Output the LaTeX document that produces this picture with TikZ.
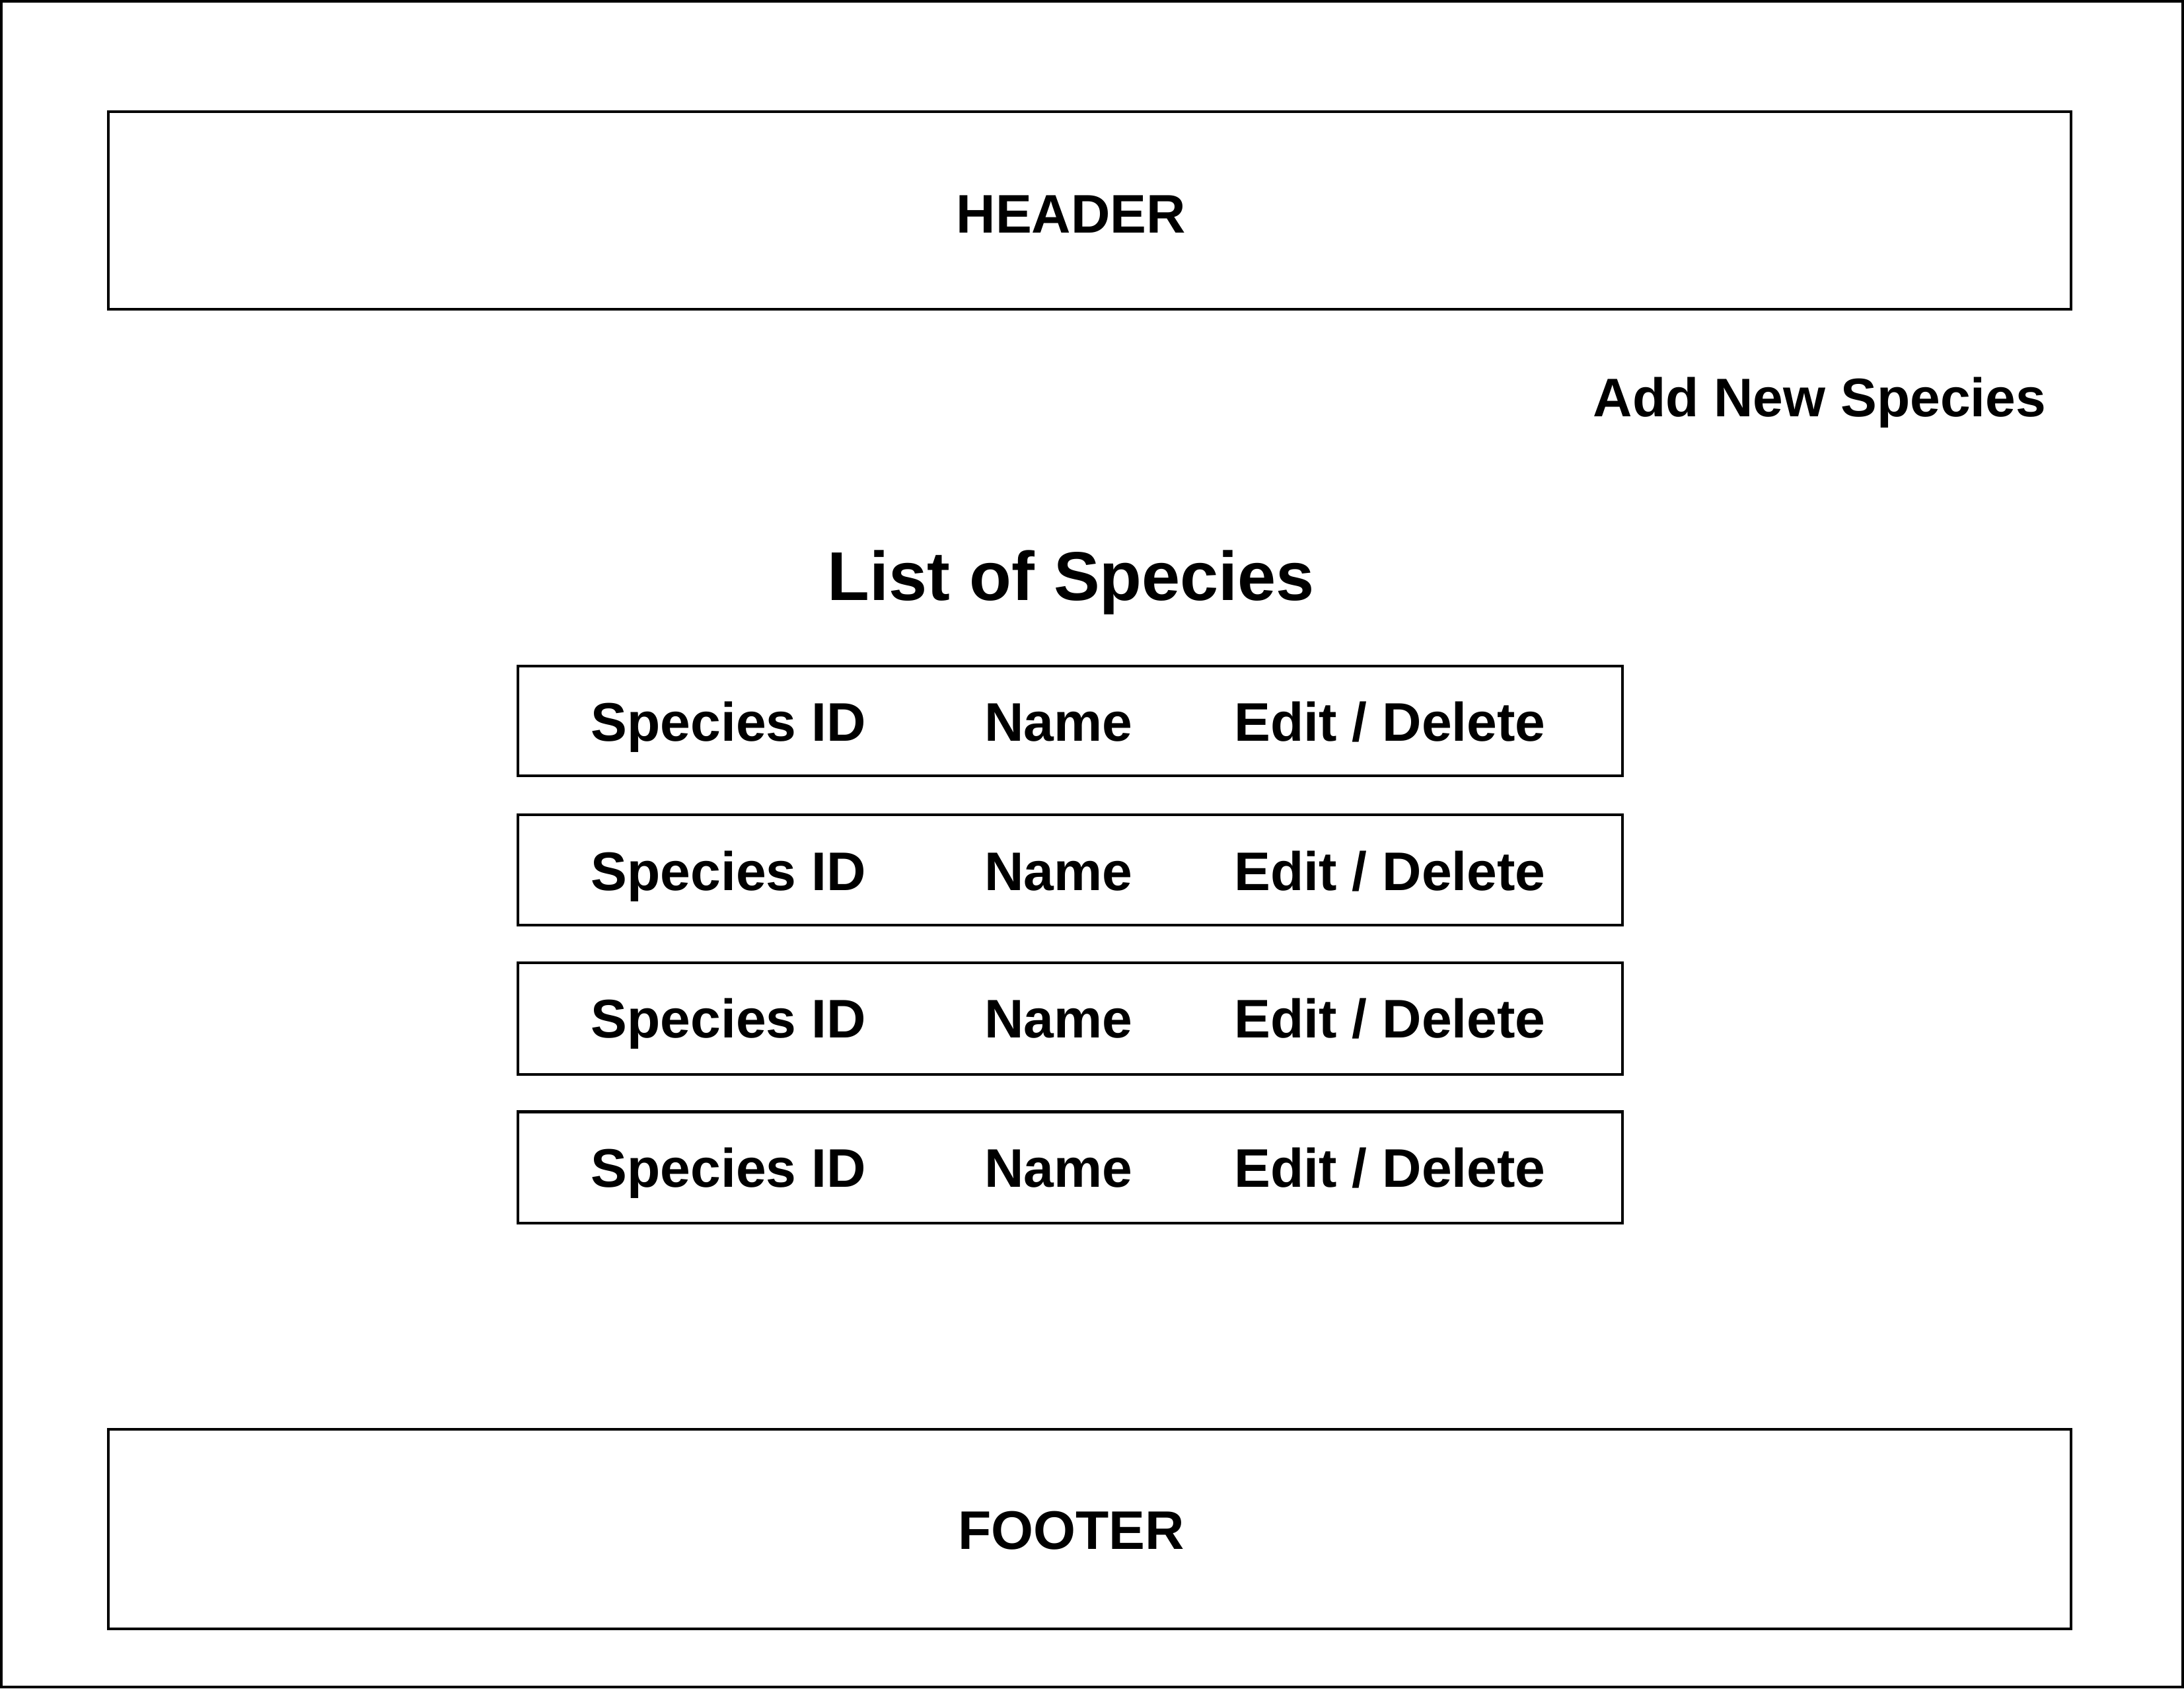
\documentclass[tikz,border=0pt]{standalone}
\usepackage{fontspec}
\setmainfont{Liberation Sans}
\usetikzlibrary{positioning}

\tikzset{
  boxline/.style={line width=0.55pt},
  celltext/.style={font=\fontsize{11.1}{13}\selectfont\bfseries, inner sep=0pt, anchor=base},
  titletext/.style={font=\fontsize{14.1}{17}\selectfont\bfseries, inner sep=0pt, anchor=base}
}

\begin{document}
\begin{tikzpicture}[boxline]
  \useasboundingbox (0,0) rectangle (15.68,12.12);
% Page outline
  \draw (0.01,0.01) rectangle (15.67,12.11);
% Header
  \draw (0.78,9.90) rectangle (14.87,11.32);
  \node[celltext] (header) at (7.69,10.45) {HEADER};
% Add link
  \node[celltext, anchor=base east] (addnew) at (14.70,9.13) {Add New Species};
% List title
  \node[titletext] (listtitle) at (7.69,7.81) {List of Species};
% Row no 1
  \draw (3.72,6.55) rectangle (11.65,7.34);
  \node[celltext] (id1) at (5.23,6.80) {Species ID};
  \node[celltext] (name1) at (7.60,6.80) {Name};
  \node[celltext] (edit1) at (9.98,6.80) {Edit / Delete};
% Row no 2
  \draw (3.72,5.48) rectangle (11.65,6.27);
  \node[celltext] (id2) at (5.23,5.73) {Species ID};
  \node[celltext] (name2) at (7.60,5.73) {Name};
  \node[celltext] (edit2) at (9.98,5.73) {Edit / Delete};
% Row no 3
  \draw (3.72,4.41) rectangle (11.65,5.21);
  \node[celltext] (id3) at (5.23,4.67) {Species ID};
  \node[celltext] (name3) at (7.60,4.67) {Name};
  \node[celltext] (edit3) at (9.98,4.67) {Edit / Delete};
% Row no 4
  \draw (3.72,3.34) rectangle (11.65,4.14);
  \node[celltext] (id4) at (5.23,3.60) {Species ID};
  \node[celltext] (name4) at (7.60,3.60) {Name};
  \node[celltext] (edit4) at (9.98,3.60) {Edit / Delete};
% Footer
  \draw (0.78,0.43) rectangle (14.87,1.86);
  \node[celltext] (footer) at (7.69,1.00) {FOOTER};
\end{tikzpicture}
\end{document}
